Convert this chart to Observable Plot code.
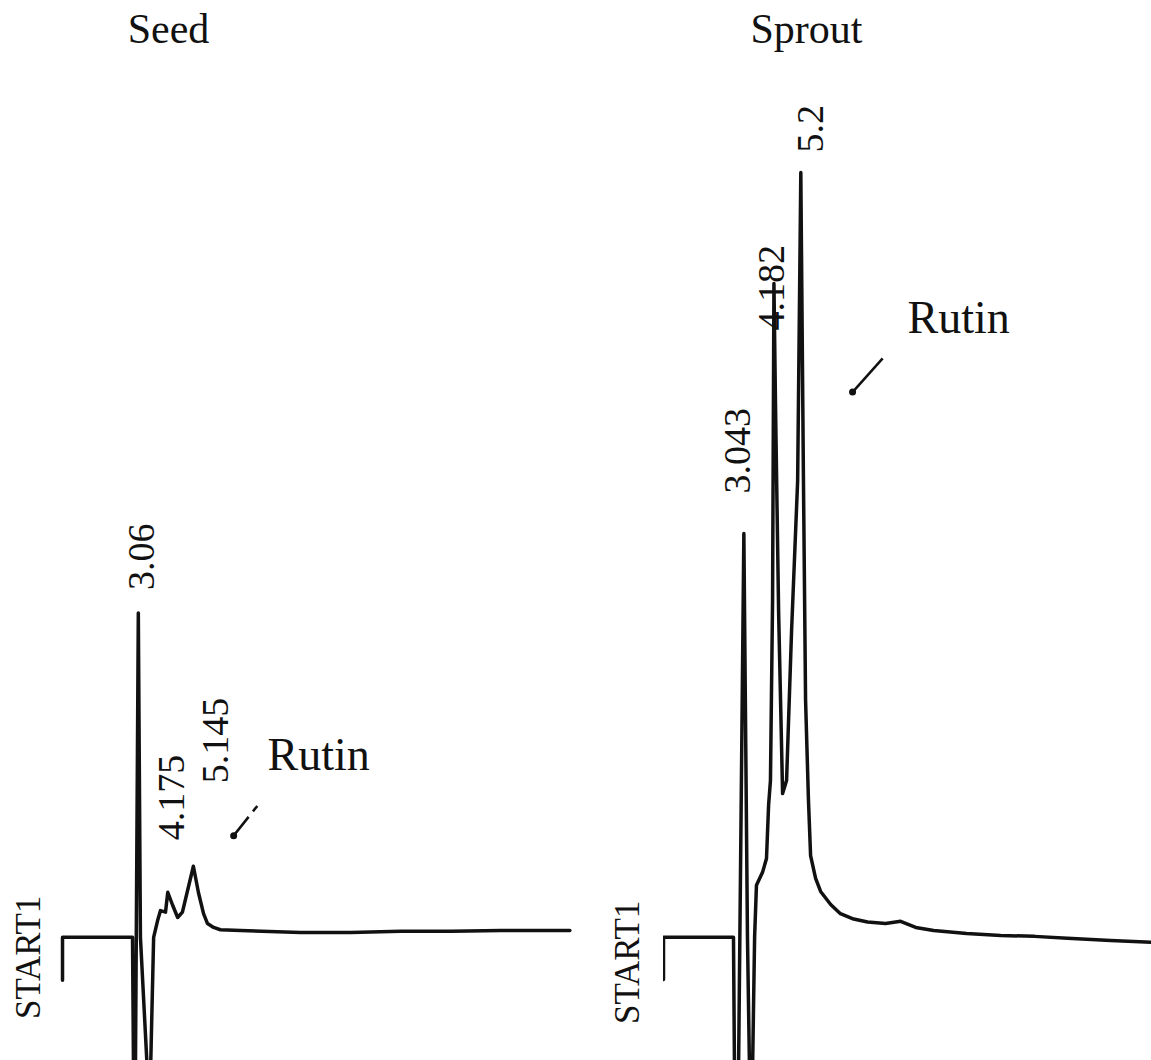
<!DOCTYPE html>
<html><head><meta charset="utf-8">
<script src="https://cdn.jsdelivr.net/npm/d3@7"></script>
<script src="https://cdn.jsdelivr.net/npm/@observablehq/plot@0.6"></script>
<style>
body{margin:0;background:#fff}
#row{display:flex;width:1151px;height:1060px;overflow:hidden;background:#fff}
</style>
</head><body><div id="row"></div>
<script>
// Retention time (min) and detector signal (relative units, sprout Rutin peak = 100)
const seedTime   = [0.19, 0.19, 2.84, 2.88, 2.95, 3.06, 3.14, 3.41, 3.52, 3.64, 3.79, 3.90, 4.09, 4.175, 4.36, 4.55, 4.73, 5.145, 5.34, 5.53, 5.68, 5.91, 6.17, 6.93, 9.2, 11.1, 13.0, 14.9, 16.8, 19.4];
const seedSignal = [-5.6, 0, 0, -18, -18, 42.4, 0, -18, -18, 0, 2.2, 3.5, 3.3, 5.9, 4.2, 2.6, 3.3, 9.3, 5.8, 3.1, 1.8, 1.3, 1.0, 0.9, 0.65, 0.65, 0.8, 0.8, 0.9, 0.9];

const sproutTime   = [0, 0, 2.65, 2.69, 2.84, 3.043, 3.18, 3.26, 3.37, 3.45, 3.52, 3.75, 3.90, 3.98, 4.05, 4.13, 4.182, 4.24, 4.36, 4.51, 4.66, 4.85, 5.08, 5.2, 5.30, 5.38, 5.49, 5.57, 5.76, 5.95, 6.33, 6.70, 7.20, 7.73, 8.41, 8.98, 9.55, 10.23, 11.48, 12.77, 14.05, 15.3, 16.93, 18.48];
const sproutSignal = [-5.5, 0, 0, -18, -18, 52.8, 0, -18, -18, 0, 6.8, 8.5, 10.3, 17.3, 20.5, 44, 85.5, 70, 42.4, 18.8, 20.5, 40.1, 59.7, 100, 59.7, 31, 17.9, 10.7, 7.7, 6.0, 4.3, 3.1, 2.4, 2.0, 1.8, 2.1, 1.3, 0.9, 0.5, 0.26, 0.13, -0.13, -0.4, -0.65];

const seedPeakTimes     = [3.06, 4.175, 5.145];
const seedPeakHeights   = [42.4, 5.9, 9.3];
const sproutPeakTimes   = [3.043, 4.182, 5.2];
const sproutPeakHeights = [52.8, 85.5, 100];

const panelTitles   = ["Seed", "Sprout"];
const compoundLabel = "Rutin";
const startLabel    = "START1";

// Rutin annotation: label anchor [time, signal], arrow [time1, signal1, time2, signal2]
const seedRutinText    = [7.95, 23.8];
const seedRutinArrow   = [6.67, 13.3, 7.80, 18.2];
const sproutRutinText  = [9.24, 80.9];
const sproutRutinArrow = [7.16, 71.3, 8.30, 75.7];

const FONT = "'Liberation Serif', 'Times New Roman', serif";

function panel(cfg) {
  const trace = cfg.time.map((t, i) => ({t, v: cfg.signal[i]}));
  const peaks = cfg.peakTimes.map((t, i) => ({t, v: cfg.peakHeights[i], label: String(t)}));
  const arrow = [{x1: cfg.arrow[0], y1: cfg.arrow[1], x2: cfg.arrow[2], y2: cfg.arrow[3]}];
  const marks = [
    Plot.line(trace, {x: "t", y: "v", stroke: "#111", strokeWidth: 3.5, curve: "linear", clip: true}),
    ...peaks.map((p, i) => Plot.text([p], {
      x: "t", y: "v", text: "label", rotate: -90, textAnchor: "start", lineAnchor: "middle",
      fontSize: 38, fill: "#111", dx: cfg.nudge[i][0], dy: cfg.nudge[i][1]
    })),
    Plot.text([{t: cfg.rutinText[0], v: cfg.rutinText[1]}], {
      x: "t", y: "v", text: () => compoundLabel, textAnchor: "start", lineAnchor: "middle",
      fontSize: 46, fill: "#111"
    }),
    Plot.link(arrow, {x1: "x1", y1: "y1", x2: "x2", y2: "y2", stroke: "#111", strokeWidth: 2.5,
      strokeDasharray: cfg.dash}),
    Plot.dot(arrow, {x: "x1", y: "y1", r: 3.5, fill: "#111"}),
    Plot.text([{t: cfg.time[0], v: 0}], {
      x: "t", y: "v", text: () => startLabel, rotate: -90, textAnchor: "middle", lineAnchor: "middle",
      fontSize: 35, fill: "#111", dx: cfg.startDx, dy: cfg.startDy
    }),
    Plot.text([cfg.title], {
      text: d => d, frameAnchor: "top-left", textAnchor: "middle", lineAnchor: "middle",
      fontSize: 42, fill: "#111", dx: cfg.titleDx, dy: 29
    })
  ];
  return Plot.plot({
    width: cfg.width, height: 1060,
    marginLeft: cfg.marginLeft, marginRight: cfg.marginRight, marginTop: 0, marginBottom: 0,
    x: {domain: cfg.xDomain, axis: null},
    y: {domain: [-16.1, 122.5], axis: null},
    style: {fontFamily: FONT, background: "#fff", overflow: "visible"},
    marks
  });
}

const row = document.getElementById("row");
row.append(panel({
  title: panelTitles[0], width: 600, marginLeft: 57, marginRight: 28, xDomain: [0, 19.5],
  time: seedTime, signal: seedSignal, peakTimes: seedPeakTimes, peakHeights: seedPeakHeights,
  nudge: [[4, -23], [4, -52], [22, -83]],
  rutinText: seedRutinText, arrow: seedRutinArrow, dash: "24,7,7,200",
  startDx: -34, startDy: 20, titleDx: 111
}));
row.append(panel({
  title: panelTitles[1], width: 551, marginLeft: 63, marginRight: 0, xDomain: [0, 18.48],
  time: sproutTime, signal: sproutSignal, peakTimes: sproutPeakTimes, peakHeights: sproutPeakHeights,
  nudge: [[-6, -40], [-2, 47], [10, -20]],
  rutinText: sproutRutinText, arrow: sproutRutinArrow, dash: null,
  startDx: -36, startDy: 25, titleDx: 143
}));
</script>
</body></html>
